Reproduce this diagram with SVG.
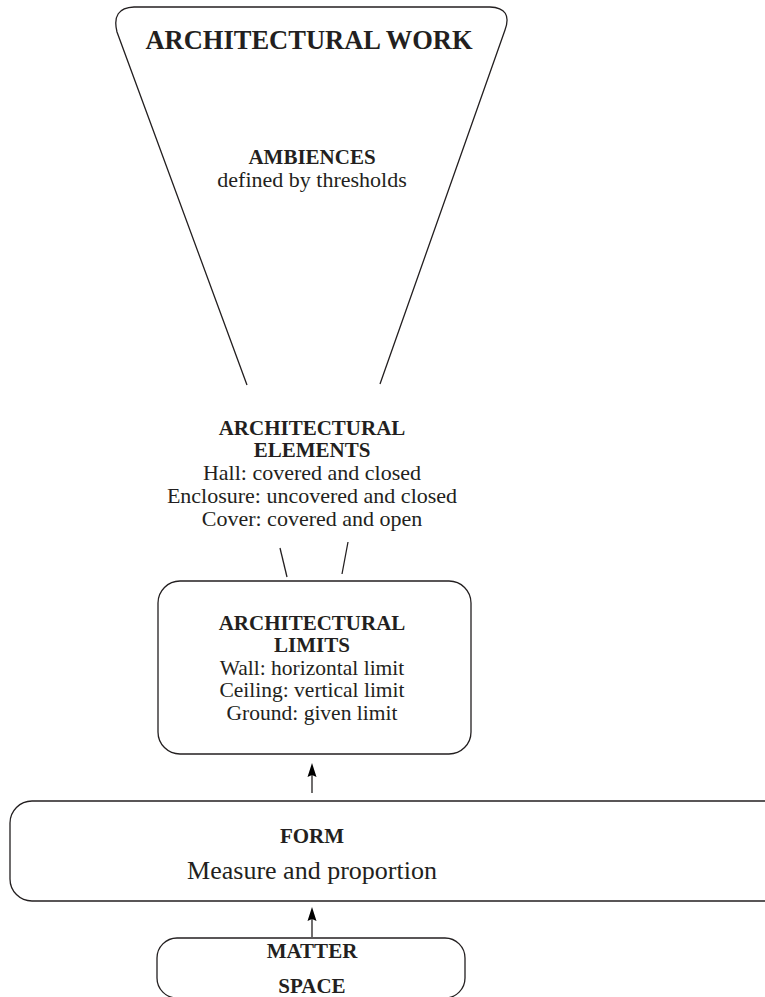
<svg xmlns="http://www.w3.org/2000/svg" width="765" height="997" viewBox="0 0 765 997">
<defs>
<style>
.ln{fill:none;stroke:#231f20;stroke-width:1.3}
.box{fill:#fff;stroke:#231f20;stroke-width:1.3}
.ah{fill:#000;stroke:none}
text{font-family:"Liberation Serif","Times New Roman",serif;fill:#231f20;text-anchor:middle}
.b{font-weight:bold}
.t21{font-size:21px}
.t22{font-size:22px}
.t215{font-size:21.5px}
</style>
</defs>
<rect width="765" height="997" fill="#fff"/>
<g id="work">
<path class="ln" d="M247,385 L117,32 Q111,8 134,7 L490,7 Q513,8 505,30 L380,384"/>
<text class="b" x="309" y="49" font-size="26.5">ARCHITECTURAL WORK</text>
<text class="b t21" x="312" y="164">AMBIENCES</text>
<text class="t22" x="312" y="187">defined by thresholds</text>
</g>
<g id="elements">
<text class="b t21" x="312" y="435">ARCHITECTURAL</text>
<text class="b t21" x="312" y="457">ELEMENTS</text>
<text class="t22" x="312" y="480">Hall: covered and closed</text>
<text class="t22" x="312" y="503">Enclosure: uncovered and closed</text>
<text class="t22" x="312" y="526">Cover: covered and open</text>
</g>
<g id="limits">
<rect class="box" x="158" y="581" width="313" height="173" rx="22"/>
<text class="b t21" x="312" y="629.5">ARCHITECTURAL</text>
<text class="b t21" x="312" y="652">LIMITS</text>
<text class="t215" x="312" y="674.5">Wall: horizontal limit</text>
<text class="t215" x="312" y="697">Ceiling: vertical limit</text>
<text class="t215" x="312" y="719.5">Ground: given limit</text>
</g>
<g id="form">
<rect class="box" x="10" y="801" width="800" height="100" rx="22"/>
<text class="b t21" x="312" y="843">FORM</text>
<text x="312" y="879" font-size="26">Measure and proportion</text>
</g>
<g id="matter">
<rect class="box" x="157" y="938" width="308" height="60" rx="20"/>
<text class="b t21" x="312" y="958">MATTER</text>
<text class="b t21" x="312" y="993">SPACE</text>
</g>
<g id="connectors">
<line class="ln" x1="280" y1="548" x2="287" y2="577"/>
<line class="ln" x1="348" y1="542" x2="342" y2="574"/>
<line class="ln" x1="312" y1="793" x2="312" y2="774"/>
<path class="ah" d="M312,763 L316.5,777 L312,775 L307.5,777 Z"/>
<line class="ln" x1="312" y1="937" x2="312" y2="918"/>
<path class="ah" d="M312,907 L316.5,921 L312,919 L307.5,921 Z"/>
</g>
</svg>
